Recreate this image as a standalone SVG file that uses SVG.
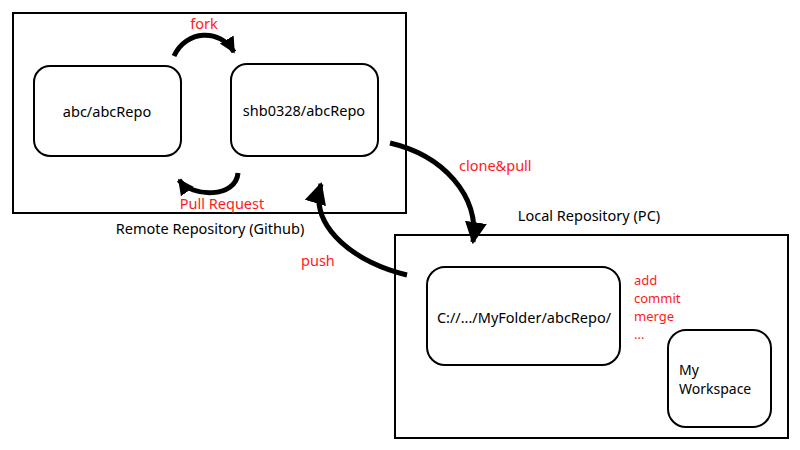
<svg xmlns="http://www.w3.org/2000/svg" width="800" height="450" viewBox="0 0 800 450">
<style>
text{font-family:"Noto Sans","Liberation Sans",sans-serif;font-size:14.5px;fill:#000}
.red{fill:#ff1a1a}
.list{font-size:13px}
.frame{fill:#fff;stroke:#000;stroke-width:2}
.node{fill:#fff;stroke:#000;stroke-width:2}
.arc{fill:none;stroke:#000;stroke-width:5}
</style>
<defs>
<marker id="ah" viewBox="0 0 10 10" refX="9" refY="5" markerUnits="userSpaceOnUse" markerWidth="22" markerHeight="24" orient="auto"><path d="M0,0 L10,5 L0,10 z" fill="#000"/></marker>
<marker id="ahs" viewBox="0 0 10 10" refX="9" refY="5" markerUnits="userSpaceOnUse" markerWidth="16" markerHeight="18" orient="auto"><path d="M0,0 L10,5 L0,10 z" fill="#000"/></marker>
</defs>
<rect width="800" height="450" fill="#fff"/>
<g id="remote">
<rect class="frame" x="13" y="13" width="393" height="200"/>
<text x="210" y="234" text-anchor="middle">Remote Repository (Github)</text>
</g>
<g id="local">
<rect class="frame" x="395" y="235" width="393" height="203"/>
<text x="589" y="221" text-anchor="middle">Local Repository (PC)</text>
</g>
<g id="abc">
<rect class="node" x="34" y="66" width="147" height="90" rx="16"/>
<text x="107" y="117" text-anchor="middle">abc/abcRepo</text>
</g>
<g id="shb">
<rect class="node" x="231" y="64" width="147" height="92" rx="16"/>
<text x="304" y="116" text-anchor="middle">shb0328/abcRepo</text>
</g>
<g id="localrepo">
<rect class="node" x="427" y="267" width="193" height="98" rx="18"/>
<text x="524" y="323" text-anchor="middle">C://.../MyFolder/abcRepo/</text>
</g>
<g id="workspace">
<rect class="node" x="668" y="330" width="103" height="97" rx="18"/>
<text class="list" x="679" y="375" style="font-size:14px">My</text>
<text class="list" x="679" y="394" style="font-size:14px">Workspace</text>
</g>
<g id="connectors">
<path class="arc" d="M174,56 C186,30 220,28 234,52" marker-end="url(#ahs)"/>
<path class="arc" d="M238,173 C236,198 192,198 179,180" marker-end="url(#ahs)"/>
<path class="arc" d="M390,143 C442,155 480,195 473,242" marker-end="url(#ah)"/>
<path class="arc" d="M407,275 C358,264 308,228 321,184" marker-end="url(#ah)"/>
</g>
<g id="labels">
<text class="red" x="204" y="29" text-anchor="middle">fork</text>
<text class="red" x="222" y="209" text-anchor="middle">Pull Request</text>
<text class="red" x="459" y="171">clone&amp;pull</text>
<text class="red" x="301" y="266">push</text>
<text class="red list" x="634" y="285">add</text>
<text class="red list" x="634" y="303">commit</text>
<text class="red list" x="634" y="321">merge</text>
<text class="red list" x="634" y="339">...</text>
</g>
</svg>
